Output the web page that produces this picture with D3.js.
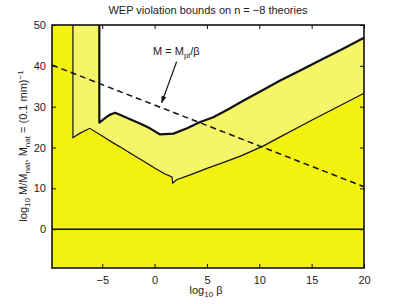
<!DOCTYPE html>
<html>
<head>
<script src="https://d3js.org/d3.v7.min.js"></script>
<style>
  body { margin: 0; background: #fff; }
  svg text { font-family: "Liberation Sans", Arial, sans-serif; fill: #222; }
</style>
</head>
<body>
<div id="chart"></div>
<script>
// lower (thin) bound: wall at log beta = -7.8 then the curve
var lowerX = [-7.8, -7.8, -7.2, -6.2, -5, -4, -3, -2, -1, 0, 1, 1.66, 1.73, 2.1, 3.4, 5, 6.2, 8.2, 10.4, 12, 15, 20];
var lowerY = [50, 22.4, 23.4, 24.7, 22.8, 21.2, 19.7, 18.1, 16.6, 15.0, 13.5, 12.8, 11.3, 12.1, 13.3, 14.9, 16.0, 17.9, 20.4, 22.6, 26.7, 33.3];
// upper (thick) bound: wall at log beta = -5.28 then the curve
var upperX = [-5.28, -5.28, -4.74, -4.3, -3.78, -3.2, -2.5, -1.4, -0.44, 0.52, 1.8, 3.1, 4.3, 5.6, 7, 8.5, 10, 12, 14, 16, 18, 20];
var upperY = [50, 26.1, 27.2, 28.0, 28.5, 27.9, 27.1, 25.9, 24.7, 23.2, 23.4, 24.7, 26.2, 27.4, 29.3, 31.5, 33.6, 36.4, 39.0, 41.6, 44.2, 46.9];
// M = Mpl / beta
var dashX = [-9.8, 20];
var dashY = [40.2, 10.4];
var xTicks = [-5, 0, 5, 10, 15, 20];
var yTicks = [0, 10, 20, 30, 40, 50];

var width = 403, height = 304;
var margin = {left: 52, right: 39, top: 25, bottom: 36};

var svg = d3.select('#chart').append('svg')
    .attr('width', width)
    .attr('height', height);

var x = d3.scaleLinear().domain([-9.8, 20]).range([margin.left, width - margin.right]);
var y = d3.scaleLinear().domain([-9.5, 50]).range([height - margin.bottom, margin.top]);

var lower = lowerX.map(function(d, i) { return [d, lowerY[i]]; });
var upper = upperX.map(function(d, i) { return [d, upperY[i]]; });

var line = d3.line().x(function(d) { return x(d[0]); }).y(function(d) { return y(d[1]); });

// light yellow: everything below the upper bound
var lightPoly = [[-9.8, -9.5], [-9.8, 50]].concat(upper).concat([[20, -9.5]]);
svg.append('path').attr('d', line(lightPoly) + 'Z').attr('fill', '#f5f568');

// bright yellow: everything below the lower bound
var brightPoly = [[-9.8, -9.5], [-9.8, 50]].concat(lower).concat([[20, -9.5]]);
svg.append('path').attr('d', line(brightPoly) + 'Z').attr('fill', '#f2f20e');

// zero line
svg.append('path').attr('d', line([[-9.8, 0], [20, 0]]))
    .attr('stroke', '#111').attr('stroke-width', 1.5).attr('fill', 'none');

// dashed line
svg.append('path').attr('d', line(dashX.map(function(d, i) { return [d, dashY[i]]; })))
    .attr('stroke', '#111').attr('stroke-width', 1.5).attr('stroke-dasharray', '6,4').attr('fill', 'none');

// bounds
svg.append('path').attr('d', line(lower))
    .attr('stroke', '#111').attr('stroke-width', 1.2).attr('fill', 'none');
svg.append('path').attr('d', line(upper))
    .attr('stroke', '#111').attr('stroke-width', 2.2).attr('fill', 'none').attr('stroke-linejoin', 'round');

// axes (MATLAB style box with inward ticks)
var xAxis = d3.axisBottom(x).tickValues(xTicks).tickSizeInner(-4).tickSizeOuter(0).tickPadding(8)
    .tickFormat(function(d) { return d < 0 ? '\u2212' + Math.abs(d) : d; });
var yAxis = d3.axisLeft(y).tickValues(yTicks).tickSizeInner(-4).tickSizeOuter(0).tickPadding(6);

svg.append('g').attr('transform', 'translate(0,' + (height - margin.bottom) + ')').call(xAxis);
svg.append('g').attr('transform', 'translate(' + margin.left + ',0)').call(yAxis);
svg.append('g').attr('transform', 'translate(0,' + margin.top + ')')
    .call(d3.axisTop(x).tickValues(xTicks).tickSizeInner(-4).tickSizeOuter(0).tickFormat(''));
svg.append('g').attr('transform', 'translate(' + (width - margin.right) + ',0)')
    .call(d3.axisRight(y).tickValues(yTicks).tickSizeInner(-4).tickSizeOuter(0).tickFormat(''));

svg.selectAll('.domain').remove();
svg.selectAll('.tick line').attr('stroke', '#111');
svg.selectAll('.tick text').attr('font-size', 11).attr('fill', '#222');

svg.append('rect')
    .attr('x', margin.left).attr('y', margin.top)
    .attr('width', width - margin.left - margin.right)
    .attr('height', height - margin.top - margin.bottom)
    .attr('fill', 'none').attr('stroke', '#111').attr('stroke-width', 1.6);

// title
svg.append('text').attr('x', (margin.left + width - margin.right) / 2).attr('y', 14)
    .attr('text-anchor', 'middle').attr('font-size', 11)
    .text('WEP violation bounds on n = \u22128 theories');

// annotation
var lbl = svg.append('text').attr('x', x(-0.15)).attr('y', y(42.7)).attr('font-size', 11);
lbl.append('tspan').text('M = M');
lbl.append('tspan').attr('font-size', 8).attr('dy', 3).text('pl');
lbl.append('tspan').attr('dy', -3).text('/\u03b2');

svg.append('defs').append('marker')
    .attr('id', 'arrow').attr('viewBox', '0 0 10 10').attr('refX', 9).attr('refY', 5)
    .attr('markerWidth', 7).attr('markerHeight', 6).attr('orient', 'auto')
    .append('path').attr('d', 'M0,1.5 L10,5 L0,8.5 Z').attr('fill', '#111');
svg.append('path').attr('d', line([[2.1, 41.0], [0.68, 31.0]]))
    .attr('stroke', '#111').attr('stroke-width', 1.2).attr('marker-end', 'url(#arrow)');

// axis labels
var xl = svg.append('text').attr('x', 206).attr('y', 294).attr('text-anchor', 'middle').attr('font-size', 11);
xl.append('tspan').text('log');
xl.append('tspan').attr('font-size', 8).attr('dy', 3).text('10');
xl.append('tspan').attr('dy', -3).text(' \u03b2');

var yl = svg.append('text').attr('transform', 'translate(27,' + 146 + ') rotate(-90)')
    .attr('text-anchor', 'middle').attr('font-size', 11);
yl.append('tspan').text('log');
yl.append('tspan').attr('font-size', 8).attr('dy', 3).text('10');
yl.append('tspan').attr('dy', -3).text(' M/M');
yl.append('tspan').attr('font-size', 8).attr('dy', 3).text('nat');
yl.append('tspan').attr('dy', -3).text(', M');
yl.append('tspan').attr('font-size', 8).attr('dy', 3).text('nat');
yl.append('tspan').attr('dy', -3).text(' = (0.1 mm)');
yl.append('tspan').attr('font-size', 8).attr('dy', -4).text('\u22121');
</script>
</body>
</html>
